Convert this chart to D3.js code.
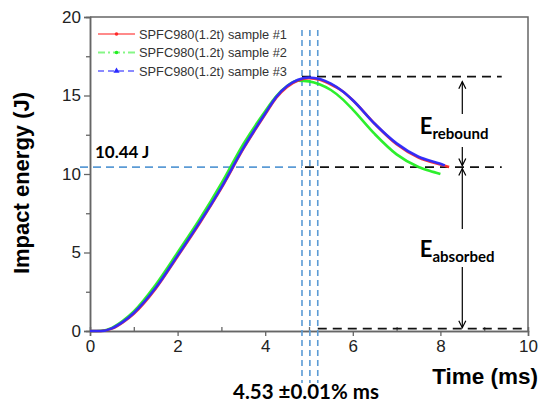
<!DOCTYPE html>
<html>
<head>
<meta charset="utf-8">
<script src="https://cdn.jsdelivr.net/npm/d3@7"></script>
<style>
    body { margin: 0; background: #fff; }
    svg { display: block; }
</style>
</head>
<body>
<svg id="chart" width="540" height="405"></svg>
<script>
// sample data (time in ms, energy in J)
var timeRB = [0, 0.25, 0.5, 0.75, 1.0, 1.5, 2.0, 2.5, 3.0, 3.5, 4.0, 4.25, 4.5, 4.75, 5.0, 5.25, 5.5, 5.75, 6.0, 6.5, 7.0, 7.5, 8.0, 8.2];
var energy1 = [0, 0, 0.15, 0.55, 1.1, 2.7, 4.75, 6.85, 9.1, 11.6, 13.8, 14.85, 15.55, 15.95, 16.1, 16.0, 15.7, 15.3, 14.7, 13.2, 11.9, 11.05, 10.6, 10.45];
var energy3 = [0, 0, 0.17, 0.58, 1.15, 2.75, 4.8, 6.9, 9.15, 11.65, 13.85, 14.9, 15.6, 16.0, 16.15, 16.05, 15.75, 15.3, 14.7, 13.2, 11.95, 11.1, 10.65, 10.55];
var timeG = [0, 0.25, 0.5, 0.75, 1.0, 1.5, 2.0, 2.5, 3.0, 3.5, 4.0, 4.25, 4.5, 4.75, 5.0, 5.25, 5.5, 5.75, 6.0, 6.5, 7.0, 7.5, 7.75, 8.0];
var energy2 = [0, 0.02, 0.2, 0.65, 1.25, 2.95, 5.0, 7.1, 9.4, 11.9, 14.0, 14.95, 15.6, 15.95, 15.9, 15.7, 15.35, 14.8, 14.1, 12.55, 11.25, 10.45, 10.2, 10.0];

var seriesNames = ['SPFC980(1.2t) sample #1', 'SPFC980(1.2t) sample #2', 'SPFC980(1.2t) sample #3'];
var seriesColors = ['#ff2a2a', '#22ee22', '#2a2aff'];

var xMajor = [0, 2, 4, 6, 8, 10];
var xMinor = [1, 3, 5, 7, 9];
var yMajor = [0, 5, 10, 15, 20];
var yMinor = [2.5, 7.5, 12.5, 17.5];

var peakEnergy = 16.2;
var reboundEnergy = 10.44;
var baseEnergy = 0.15;
var peakTimes = [4.84, 5.02, 5.2];

var W = 540, H = 405;
var margin = {left: 90, right: 12, top: 17, bottom: 74};
var pw = W - margin.left - margin.right,
    ph = H - margin.top - margin.bottom;

var x = d3.scaleLinear().domain([0, 10]).range([0, pw]);
var y = d3.scaleLinear().domain([0, 20]).range([ph, 0]);

var svg = d3.select('#chart');
var g = svg.append('g').attr('transform', 'translate(' + margin.left + ',' + margin.top + ')');

var axisColor = '#666';
var tickFont = 'Liberation Sans, Arial, sans-serif';

// frame (top + right)
g.append('path')
    .attr('d', 'M0,0H' + pw + 'V' + ph)
    .attr('fill', 'none')
    .attr('stroke', axisColor)
    .attr('stroke-width', 1.5);

function styleAxis(sel) {
    sel.select('.domain').attr('stroke', axisColor).attr('stroke-width', 1.5);
    sel.selectAll('.tick line').attr('stroke', axisColor).attr('stroke-width', 1.3);
    sel.selectAll('.tick text')
        .attr('fill', '#222')
        .style('font-family', tickFont)
        .style('font-size', '17px');
}

// x axis: major out, minor in
g.append('g')
    .attr('transform', 'translate(0,' + ph + ')')
    .call(d3.axisBottom(x).tickValues(xMajor).tickSize(5).tickPadding(4).tickFormat(d3.format('d')))
    .call(styleAxis);
g.append('g')
    .attr('transform', 'translate(0,' + ph + ')')
    .call(d3.axisBottom(x).tickValues(xMinor).tickSize(-4).tickFormat(''))
    .call(styleAxis);

// y axis
g.append('g')
    .call(d3.axisLeft(y).tickValues(yMajor).tickSize(6).tickPadding(3).tickFormat(d3.format('d')))
    .call(styleAxis);
g.append('g')
    .call(d3.axisLeft(y).tickValues(yMinor).tickSize(4).tickFormat(''))
    .call(styleAxis);

// guide lines
var blue = '#5b9bd5';
peakTimes.forEach(function(t) {
    g.append('line')
        .attr('x1', x(t)).attr('x2', x(t))
        .attr('y1', 13).attr('y2', 366)
        .attr('stroke', blue).attr('stroke-width', 1.6)
        .attr('stroke-dasharray', '6,4');
});
g.append('line')
    .attr('x1', -10).attr('x2', x(peakTimes[0]))
    .attr('y1', y(reboundEnergy)).attr('y2', y(reboundEnergy))
    .attr('stroke', blue).attr('stroke-width', 1.6)
    .attr('stroke-dasharray', '8,5');

function blackDash(x1, x2, e) {
    g.append('line')
        .attr('x1', x1).attr('x2', x2)
        .attr('y1', y(e)).attr('y2', y(e))
        .attr('stroke', '#111').attr('stroke-width', 1.6)
        .attr('stroke-dasharray', '9,6');
}
blackDash(x(peakTimes[0]), x(9.4), peakEnergy);
blackDash(x(peakTimes[0]) + 3, x(9.4), reboundEnergy);
blackDash(x(peakTimes[2]), x(9.93), baseEnergy);

// curves
var line = d3.line().x(d => x(d[0])).y(d => y(d[1])).curve(d3.curveMonotoneX);
var series = [
    {idx: 1, pts: d3.zip(timeG, energy2)},
    {idx: 0, pts: d3.zip(timeRB, energy1)},
    {idx: 2, pts: d3.zip(timeRB.slice(0, -1).concat([8.1]), energy3)},
];
series.forEach(function(s) {
    g.append('path')
        .datum(s.pts)
        .attr('d', line)
        .attr('fill', 'none')
        .attr('stroke', seriesColors[s.idx])
        .attr('stroke-width', 2.6)
        .attr('stroke-linejoin', 'round')
        .attr('opacity', 0.95);
});

// arrows
var ax = x(8.5);
function arrow(yFrom, yTo) {
    // line from yFrom to yTo (pixels), open head at yTo
    g.append('line')
        .attr('x1', ax).attr('x2', ax)
        .attr('y1', yFrom).attr('y2', yTo)
        .attr('stroke', '#000').attr('stroke-width', 1.2);
    var dir = yTo < yFrom ? 1 : -1;
    g.append('path')
        .attr('d', 'M' + (ax - 3.5) + ',' + (yTo + dir * 7) + 'L' + ax + ',' + yTo + 'L' + (ax + 3.5) + ',' + (yTo + dir * 7))
        .attr('fill', 'none').attr('stroke', '#000').attr('stroke-width', 1.2);
}
arrow(97, y(peakEnergy) + 5);
arrow(130, y(reboundEnergy) - 1.5);
arrow(212, y(reboundEnergy) + 1.5);
arrow(250, y(baseEnergy) - 1);

var labelFont = 'Lato, Open Sans, sans-serif';
function eLabel(px, py, sub) {
    var t = g.append('text')
        .attr('x', px).attr('y', py)
        .style('font-family', labelFont)
        .style('font-weight', 'bold')
        .attr('fill', '#000');
    t.append('tspan').style('font-size', '22px').text('E');
    t.append('tspan').attr('dy', 5).style('font-size', '15px').text(sub);
}
eLabel(x(7.53), 117, 'rebound');
eLabel(x(7.53), 240, 'absorbed');

g.append('text')
    .attr('x', 5).attr('y', 141)
    .style('font-family', labelFont).style('font-weight', 'bold').style('font-size', '17px')
    .text('10.44 J');

svg.append('text')
    .attr('x', 306).attr('y', 399)
    .attr('text-anchor', 'middle')
    .style('font-family', labelFont).style('font-weight', 'bold').style('font-size', '20.5px')
    .text('4.53 \u00b10.01% ms');

// axis titles
svg.append('text')
    .attr('x', 538).attr('y', 384)
    .attr('text-anchor', 'end')
    .style('font-family', tickFont).style('font-weight', 'bold').style('font-size', '22.5px')
    .text('Time (ms)');
svg.append('text')
    .attr('transform', 'translate(29,' + 183 + ') rotate(-90)')
    .attr('text-anchor', 'middle')
    .style('font-family', tickFont).style('font-weight', 'bold').style('font-size', '22px')
    .text('Impact energy (J)');

// legend
var legend = g.append('g').attr('transform', 'translate(8,17)');
var dashes = [null, '7,3,2,3', '6,4'];
seriesNames.forEach(function(name, i) {
    var row = legend.append('g').attr('transform', 'translate(0,' + (i * 18.5) + ')');
    row.append('line')
        .attr('x1', 0).attr('x2', 37)
        .attr('stroke', seriesColors[i]).attr('stroke-opacity', 0.55)
        .attr('stroke-width', 2)
        .attr('stroke-dasharray', dashes[i]);
    if (i == 2) {
        row.append('path')
            .attr('d', d3.symbol(d3.symbolTriangle, 16)())
            .attr('transform', 'translate(18.5,0)')
            .attr('fill', seriesColors[i]);
    } else {
        row.append('circle').attr('cx', 18.5).attr('r', 1.8).attr('fill', seriesColors[i]);
    }
    row.append('text')
        .attr('x', 41).attr('y', 4.5)
        .attr('fill', '#333')
        .style('font-family', tickFont).style('font-size', '12.8px')
        .text(name);
});
</script>
</body>
</html>
